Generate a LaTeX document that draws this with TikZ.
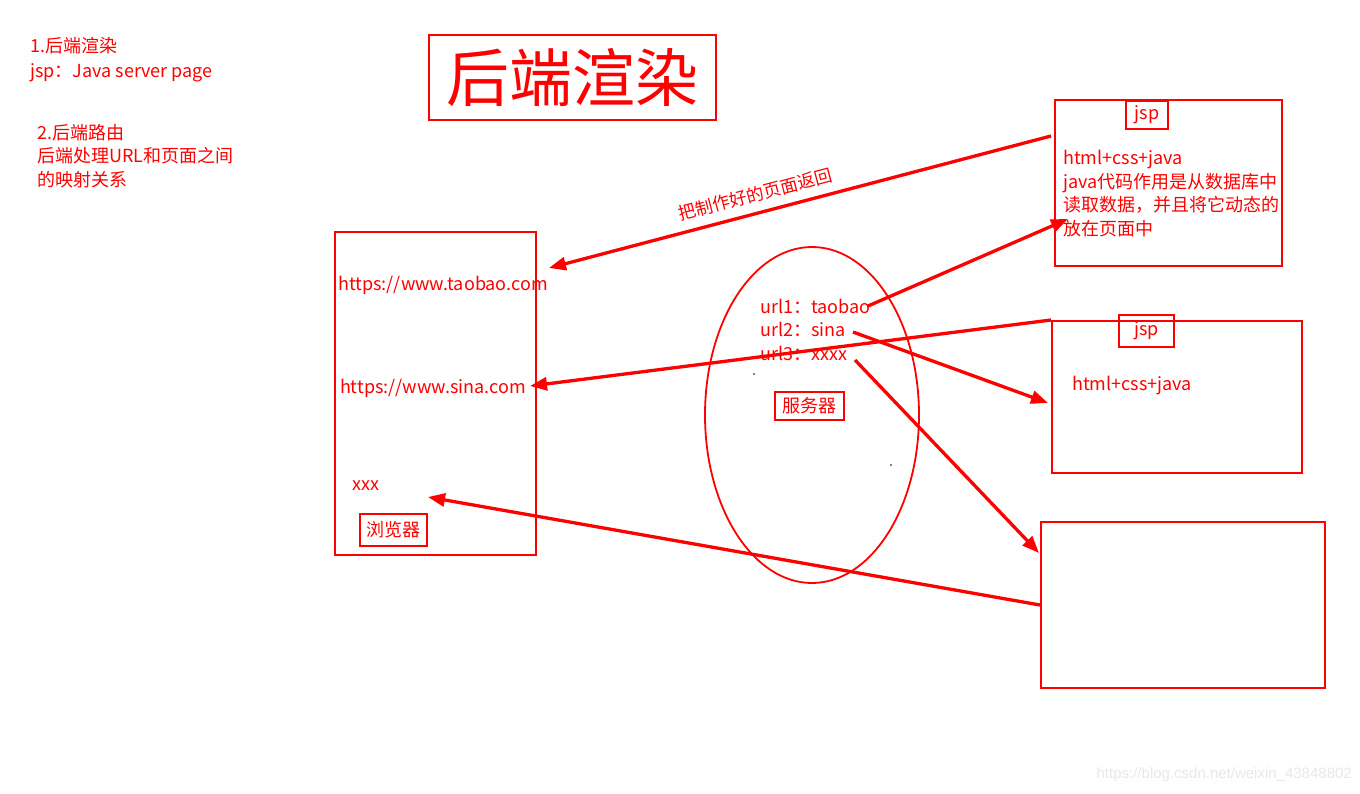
\documentclass[tikz,border=0pt]{standalone}
\usepackage{fontspec}
\setmainfont{Noto Sans CJK SC}
\newfontfamily\wmfont{Liberation Sans}
\usetikzlibrary{arrows.meta,positioning,shapes.geometric}

\tikzset{
  txt/.style={text=red, inner sep=0pt, font=\fontsize{18}{23.7}\selectfont},
  box/.style={draw=red, line width=2pt, inner sep=0pt},
  link/.style={draw=red, line width=3.3pt, -{Triangle[length=17pt,width=13pt]}},
}

\begin{document}
\begin{tikzpicture}[x=1pt, y=-1pt]
  \useasboundingbox (0,0) rectangle (1360,793);

  % notes on the left
  \node[txt, anchor=west, align=left, font=\fontsize{18}{25}\selectfont] (notea) at (30,59.5) {1.后端渲染\\jsp：Java server page};
  \node[txt, anchor=west, align=left] (noteb) at (37,156) {2.后端路由\\后端处理URL和页面之间\\的映射关系};

  % title
  \node[box, txt, minimum width=287pt, minimum height=85pt, font=\fontsize{63}{63}\selectfont] (title) at (572.5,77.5) {后端渲染};

  % browser
  \node[box, minimum width=201pt, minimum height=323pt] (browser) at (435.5,393.5) {};
  \node[txt] (taobao) at (443,285) {https://www.taobao.com};
  \node[txt] (sina) at (433,388) {https://www.sina.com};
  \node[txt] (other) at (366,486) {xxx};
  \node[box, txt, minimum width=67pt, minimum height=32pt] (bname) at (393.5,530) {浏览器};

  % server
  \node[draw=red, line width=1.8pt, ellipse, minimum width=214pt, minimum height=336pt] (server) at (812,415) {};
  \node[txt, anchor=west] (url1) at (760,306) {url1：taobao};
  \node[txt, anchor=west] (url2) at (760,329) {url2：sina};
  \node[txt, anchor=west] (url3) at (760,353) {url3：xxxx};
  \node[box, txt, minimum width=69pt, minimum height=28pt] (sname) at (809.5,406) {服务器};
  \fill (754,374) circle (0.8pt);
  \fill (891,465) circle (0.8pt);

  % pages
  \node[box, minimum width=227pt, minimum height=166pt] (jspA) at (1168.5,183) {};
  \node[box, txt, minimum width=42pt, minimum height=28pt] (jspAname) at (1147,115) {jsp};
  \node[txt, anchor=west, align=left] (jspAtext) at (1063,193.5) {html+css+java\\java代码作用是从数据库中\\读取数据，并且将它动态的\\放在页面中};

  \node[box, minimum width=250pt, minimum height=152pt] (jspB) at (1177,397) {};
  \node[box, txt, minimum width=55pt, minimum height=32pt] (jspBname) at (1146.5,331) {jsp};
  \node[txt, anchor=west] (jspBtext) at (1072,386) {html+css+java};

  \node[box, minimum width=284pt, minimum height=166pt] (pageC) at (1183,605) {};

  % connector ends
  \coordinate (backA) at (1051,136);
  \coordinate (fromA) at (868,306);
  \coordinate (toA) at (1068,219);
  \coordinate (toTaobao) at (549,268);
  \coordinate (toSina) at (530,386);
  \coordinate (fromB) at (853,332);
  \coordinate (toB) at (1048,403);
  \coordinate (fromC) at (855,360);
  \coordinate (toC) at (1039,553);
  \coordinate (toOther) at (428,497);

  \draw[link] (backA) -- node[sloped, pos=0.58, above=9pt, txt, font=\fontsize{17.5}{17.5}\selectfont] (backlabel) {把制作好的页面返回} (toTaobao);
  \draw[link] (fromA) -- (toA);
  \draw[link] (jspB.north west) -- (toSina);
  \draw[link] (fromB) -- (toB);
  \draw[link] (fromC) -- (toC);
  \draw[link] (pageC.west) -- (toOther);

  % watermark
  \node[text=black!9, inner sep=0pt, font=\wmfont\fontsize{15}{15}\selectfont, anchor=east] (mark) at (1352,775) {https://blog.csdn.net/weixin\_43848802};
\end{tikzpicture}
\end{document}
